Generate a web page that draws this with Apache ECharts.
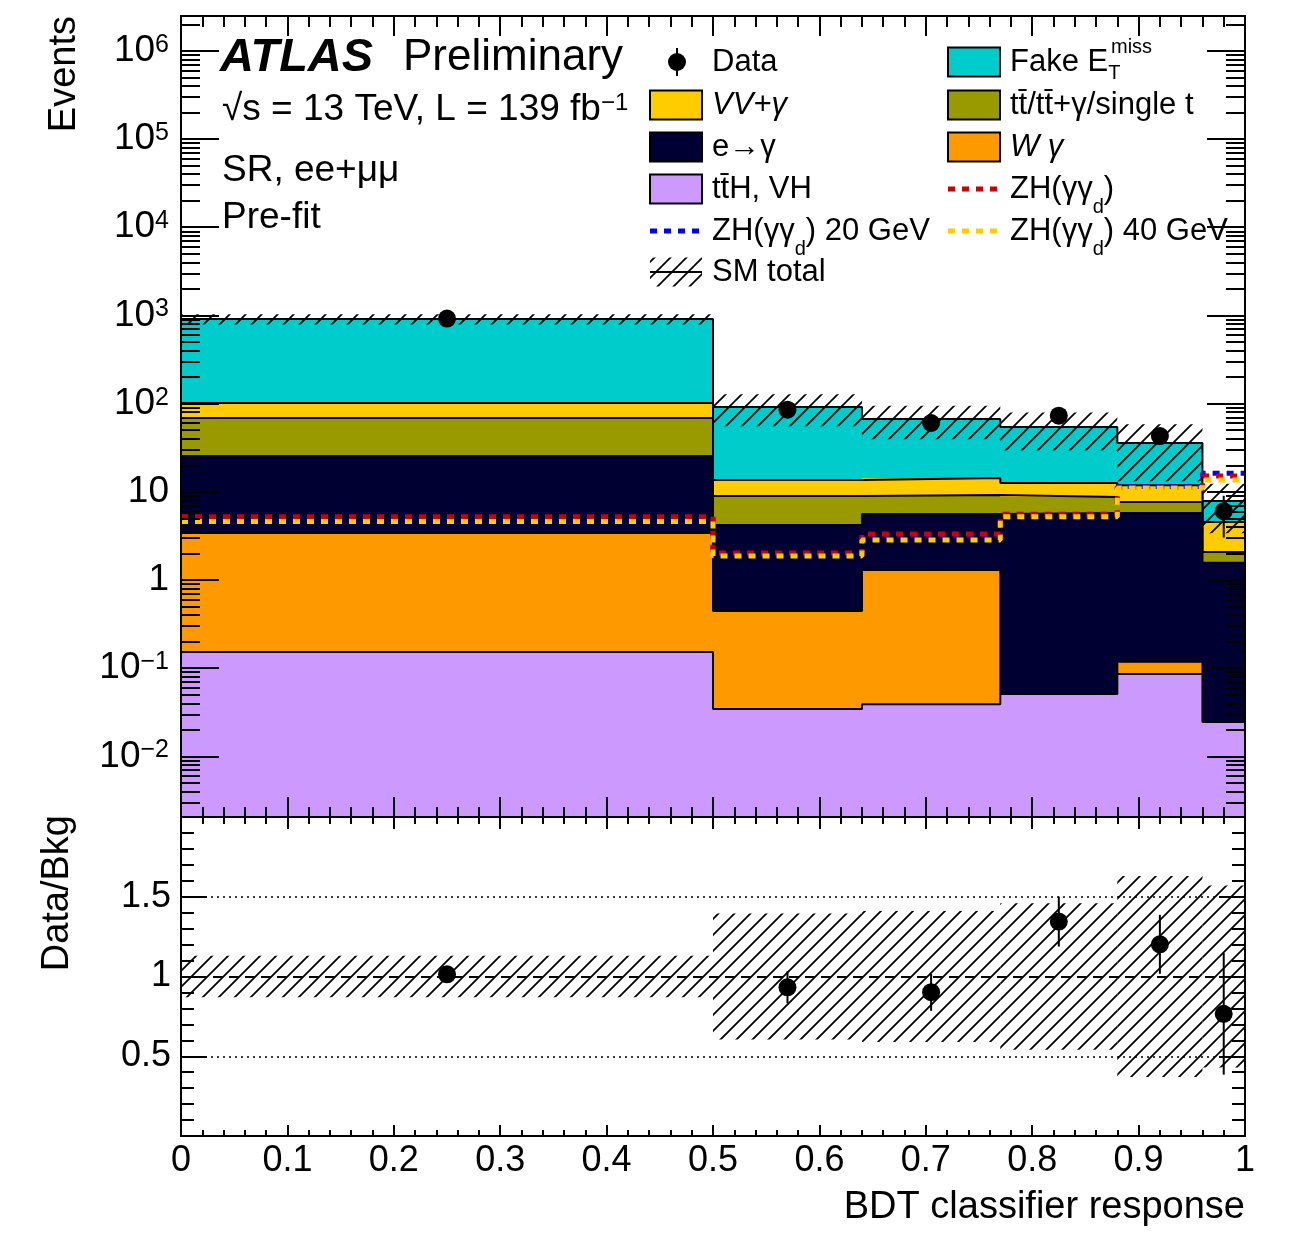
<!DOCTYPE html>
<html>
<head>
<meta charset="utf-8">
<script src="https://cdn.jsdelivr.net/npm/echarts@6/dist/echarts.min.js"></script>
<style>
html, body { margin: 0; padding: 0; background: #fff; }
#chart { width: 1292px; height: 1234px; }
</style>
</head>
<body>
<div id="chart"></div>
<script>
// BDT response bin edges
const binEdges = [0, 0.5, 0.64, 0.77, 0.88, 0.96, 1.0];

// background yields per bin (stack order: bottom -> top)
const ttHVH   = [0.153, 0.0345, 0.039, 0.051, 0.086, 0.0245];
const wGamma  = [3.26, 0.41, 1.26, 0, 0.032, 0];
const eToGam  = [22.1, 3.76, 4.3, 5.7, 5.63, 1.54];
const topBkg  = [43.2, 4.76, 3.6, 2.98, 1.91, 0.52];
const vvGamma = [32.9, 4.64, 5.1, 3.87, 4.24, 2.47];
const fakeMet = [808, 77.9, 52.6, 41.7, 23.8, 3.32];

// relative uncertainty on the SM total
const smRelUnc = [0.13, 0.395, 0.41, 0.46, 0.63, 0.57];

// observed data
const dataY   = [922, 85.3, 60.3, 73, 42.9, 6.03];
const dataErr = [30, 9.2, 7.8, 8.5, 6.6, 3.0];

// signal hypotheses
const sigZH   = [5.2, 2.03, 3.33, 5.55, 11.3, 15.1];
const sigZH20 = [5.0, 1.97, 3.18, 5.4, 11.5, 16.2];
const sigZH40 = [4.6, 1.87, 2.84, 5.2, 11.0, 13.6];

// axis ticks
const logTicks = [-2, -1, 0, 1, 2, 3, 4, 5, 6];
const ratioRefs = [0.5, 1, 1.5];

const LOG_MIN = -2.687, LOG_MAX = 6.395;
const FONT = 'Liberation Sans';

const nBins = binEdges.length - 1;
const binCenters = [];
for (let i = 0; i < nBins; i++) binCenters.push((binEdges[i] + binEdges[i + 1]) / 2);

const layers = [
  { vals: ttHVH,   color: '#cc99ff' },
  { vals: wGamma,  color: '#ff9900' },
  { vals: eToGam,  color: '#000033' },
  { vals: topBkg,  color: '#999900' },
  { vals: vvGamma, color: '#ffcc00' },
  { vals: fakeMet, color: '#00cccc' }
];
// cumulative tops
let run = new Array(nBins).fill(0);
layers.forEach(l => {
  run = run.map((v, i) => v + l.vals[i]);
  l.cum = run.slice();
});
const smTotal = run.slice();

const minorTicks = [];
for (let n = -3; n <= 6; n++) {
  for (let k = 2; k <= 9; k++) {
    const v = n + Math.log10(k);
    if (v > LOG_MIN && v < LOG_MAX) minorTicks.push(v);
  }
}

function makeHatch() {
  const c = document.createElement('canvas');
  c.width = 16; c.height = 16;
  const g = c.getContext('2d');
  g.strokeStyle = '#000';
  g.lineWidth = 1.8;
  g.beginPath();
  g.moveTo(0, 16); g.lineTo(16, 0);
  g.moveTo(-4, 4); g.lineTo(4, -4);
  g.moveTo(12, 20); g.lineTo(20, 12);
  g.stroke();
  return { image: c, repeat: 'repeat' };
}
const hatch = makeHatch();

let zc = 2;
function histFill(cum, color) {
  return {
    type: 'custom', xAxisIndex: 0, yAxisIndex: 0, z: zc++, silent: true,
    data: cum.map((v, i) => [binEdges[i], binEdges[i + 1], Math.log10(v)]),
    encode: { x: [0, 1], y: 2 },
    renderItem: (params, api) => {
      const a = api.coord([api.value(0), api.value(2)]);
      const b = api.coord([api.value(1), api.value(2)]);
      const cs = params.coordSys;
      const x0 = Math.round(a[0]), x1 = Math.round(b[0]);
      return { type: 'rect', shape: { x: x0, y: a[1], width: x1 - x0, height: cs.y + cs.height - a[1] }, style: { fill: color } };
    }
  };
}
function histLine(vals, color, width, dash) {
  return {
    type: 'line', step: 'end', xAxisIndex: 0, yAxisIndex: 0, z: zc++, silent: true,
    symbol: 'none',
    data: binEdges.map((e, i) => [e, Math.log10(vals[Math.min(i, nBins - 1)])]),
    lineStyle: { color: color, width: width, type: dash || 'solid' }
  };
}
function bandSeries(xi, yi, lo, hi, z) {
  return {
    type: 'custom', xAxisIndex: xi, yAxisIndex: yi, z: z, silent: true,
    data: lo.map((v, i) => [binEdges[i], binEdges[i + 1], v, hi[i]]),
    encode: { x: [0, 1], y: [2, 3] },
    renderItem: (params, api) => {
      const a = api.coord([api.value(0), api.value(3)]);
      const b = api.coord([api.value(1), api.value(2)]);
      return { type: 'rect', shape: { x: a[0], y: a[1], width: b[0] - a[0], height: b[1] - a[1] }, style: { fill: hatch } };
    }
  };
}
function errSeries(xi, yi, lo, hi, z) {
  return {
    type: 'custom', xAxisIndex: xi, yAxisIndex: yi, z: z, silent: true,
    data: lo.map((v, i) => [binCenters[i], v, hi[i]]),
    encode: { x: 0, y: [1, 2] },
    renderItem: (params, api) => {
      const a = api.coord([api.value(0), api.value(1)]);
      const b = api.coord([api.value(0), api.value(2)]);
      return { type: 'line', shape: { x1: a[0], y1: a[1], x2: b[0], y2: b[1] }, style: { stroke: '#000', lineWidth: 2 } };
    }
  };
}

const series = [];
for (let k = layers.length - 1; k >= 0; k--) {
  series.push(histFill(layers[k].cum, layers[k].color));
  series.push(histLine(layers[k].cum, '#000', 2));
}
series.push(bandSeries(0, 0,
  smTotal.map((t, i) => Math.log10(t * (1 - smRelUnc[i]))),
  smTotal.map((t, i) => Math.log10(t * (1 + smRelUnc[i]))), 30));
series.push(Object.assign(histLine(sigZH20, '#0000ff', 5, [7, 7]), { z: 31 }));
series.push(Object.assign(histLine(sigZH, '#cc0000', 5, [7, 7]), { z: 32 }));
series.push(Object.assign(histLine(sigZH40, '#ffcc00', 5, [7, 7]), { z: 33 }));
series.push(errSeries(0, 0,
  dataY.map((v, i) => Math.log10(Math.max(v - dataErr[i], 1e-3))),
  dataY.map((v, i) => Math.log10(v + dataErr[i])), 34));
series.push({
  type: 'scatter', xAxisIndex: 0, yAxisIndex: 0, z: 35, silent: true,
  symbol: 'circle', symbolSize: 18, itemStyle: { color: '#000', opacity: 1 },
  data: dataY.map((v, i) => [binCenters[i], Math.log10(v)])
});

// ratio panel
const ratio = dataY.map((v, i) => v / smTotal[i]);
const ratioErr = dataErr.map((e, i) => e / smTotal[i]);
series.push(bandSeries(2, 4, smRelUnc.map(u => 1 - u), smRelUnc.map(u => 1 + u), 10));
series.push(errSeries(2, 4, ratio.map((r, i) => r - ratioErr[i]), ratio.map((r, i) => r + ratioErr[i]), 12));
series.push({
  type: 'scatter', xAxisIndex: 2, yAxisIndex: 4, z: 13, silent: true,
  symbol: 'circle', symbolSize: 18, itemStyle: { color: '#000', opacity: 1 },
  data: ratio.map((r, i) => [binCenters[i], r]),
  markLine: {
    silent: true, symbol: 'none', label: { show: false }, z: 11,
    data: ratioRefs.map(r => ({
      yAxis: r,
      lineStyle: r === 1
        ? { color: '#000', width: 2, type: [10, 6] }
        : { color: '#000', width: 1.5, type: [2, 4] }
    }))
  }
});

const tickLine = { color: '#000', width: 2 };
function xAx(grid, pos, showLabel, len, minLen) {
  return {
    type: 'value', gridIndex: grid, position: pos, min: 0, max: 1, interval: 0.1, z: 50,
    axisLine: { show: true, onZero: false, lineStyle: tickLine },
    axisTick: { show: true, inside: true, length: len, lineStyle: tickLine },
    minorTick: { show: true, splitNumber: 5, length: minLen, lineStyle: tickLine },
    splitLine: { show: false },
    axisLabel: { show: showLabel, color: '#000', fontSize: 36, fontFamily: FONT, margin: 7 }
  };
}
function logAx(pos, values, len, withLabel) {
  return {
    type: 'value', gridIndex: 0, position: pos, min: LOG_MIN, max: LOG_MAX, z: 50,
    axisLine: { show: true, onZero: false, lineStyle: tickLine },
    axisTick: { show: true, inside: true, length: len, customValues: values, lineStyle: tickLine },
    splitLine: { show: false },
    axisLabel: withLabel ? {
      show: true, customValues: logTicks, color: '#000', fontSize: 37, lineHeight: 37, fontFamily: FONT, margin: 12,
      formatter: v => {
        const n = Math.round(v);
        if (n === 0) return '1';
        if (n === 1) return '10';
        return '{b|10}{e|' + (n < 0 ? '\u2212' + (-n) : n) + '}';
      },
      rich: {
        b: { fontSize: 37, lineHeight: 37, fontFamily: FONT, color: '#000', verticalAlign: 'bottom' },
        e: { fontSize: 25, lineHeight: 25, fontFamily: FONT, color: '#000', verticalAlign: 'top', padding: [0, 0, 22, 0] }
      }
    } : { show: false }
  };
}
function ratioAx(pos, withLabel) {
  return {
    type: 'value', gridIndex: 1, position: pos, min: 0, max: 2, interval: 0.5, z: 50,
    axisLine: { show: true, onZero: false, lineStyle: tickLine },
    axisTick: { show: true, inside: true, length: 26, lineStyle: tickLine },
    minorTick: { show: true, splitNumber: 5, length: 13, lineStyle: tickLine },
    splitLine: { show: false },
    axisLabel: {
      show: withLabel, color: '#000', fontSize: 36, fontFamily: FONT, margin: 10,
      formatter: v => (v === 0 || v === 2) ? '' : String(v)
    }
  };
}

// legend
const rowY = [62, 105, 147, 189, 231, 272];
const legText = { fontSize: 31, fontFamily: FONT, fill: '#000', verticalAlign: 'middle', align: 'left',
  rich: { d: { fontSize: 20, fontFamily: FONT, verticalAlign: 'bottom', padding: [36, 0, 0, 0] } } };
function lText(x, y, text, extra) {
  return { type: 'text', x: x, y: y, z: 100, style: Object.assign({ text: text }, legText, extra || {}) };
}
function lBox(x, y, color) {
  return { type: 'rect', z: 100, shape: { x: x, y: y - 14.5, width: 52, height: 29 }, style: { fill: color, stroke: '#000', lineWidth: 2 } };
}
function lDash(x, y, color) {
  return { type: 'line', z: 100, shape: { x1: x, y1: y, x2: x + 52, y2: y }, style: { stroke: color, lineWidth: 5, lineDash: [7, 7] } };
}
const LX = 650, LT = 712, RX = 948, RT = 1010;
const graphics = [
  { type: 'circle', z: 100, shape: { cx: LX + 27, cy: rowY[0], r: 9 }, style: { fill: '#000' } },
  { type: 'line', z: 100, shape: { x1: LX + 27, y1: rowY[0] - 14, x2: LX + 27, y2: rowY[0] + 14 }, style: { stroke: '#000', lineWidth: 2 } },
  lText(LT, rowY[0], 'Data'),
  lBox(LX, rowY[1], '#ffcc00'), lText(LT, rowY[1], 'VV+\u03b3', { fontStyle: 'italic' }),
  lBox(LX, rowY[2], '#000033'), lText(LT, rowY[2], 'e\u2192\u03b3'),
  lBox(LX, rowY[3], '#cc99ff'), lText(LT, rowY[3], 'tt\u0304H, VH'),
  lDash(LX, rowY[4], '#0000ff'), lText(LT, rowY[4], 'ZH(\u03b3\u03b3{d|d}) 20 GeV'),
  { type: 'rect', z: 100, shape: { x: LX, y: rowY[5] - 14.5, width: 52, height: 29 }, style: { fill: hatch } },
  { type: 'line', z: 100, shape: { x1: LX, y1: rowY[5], x2: LX + 52, y2: rowY[5] }, style: { stroke: '#000', lineWidth: 2 } },
  lText(LT, rowY[5], 'SM total'),
  lBox(RX, rowY[0], '#00cccc'),
  lText(RT, rowY[0], 'Fake E{t|T}', { rich: { t: { fontSize: 20, fontFamily: FONT, verticalAlign: 'bottom', padding: [22, 0, 0, 0] } } }),
  lText(RT + 101, rowY[0] - 15, 'miss', { fontSize: 20 }),
  lBox(RX, rowY[1], '#999900'), lText(RT, rowY[1], 'tt\u0304/tt\u0304+\u03b3/single t'),
  lBox(RX, rowY[2], '#ff9900'), lText(RT, rowY[2], 'W \u03b3', { fontStyle: 'italic' }),
  lDash(RX, rowY[3], '#cc0000'), lText(RT, rowY[3], 'ZH(\u03b3\u03b3{d|d})'),
  lDash(RX, rowY[4], '#ffcc00'), lText(RT, rowY[4], 'ZH(\u03b3\u03b3{d|d}) 40 GeV'),
  // labels
  { type: 'text', x: 220, y: 58, z: 100, style: { text: 'ATLAS', fontSize: 47, fontWeight: 'bold', fontStyle: 'italic', fontFamily: FONT, fill: '#000', verticalAlign: 'middle' } },
  { type: 'text', x: 403, y: 58, z: 100, style: { text: 'Preliminary', fontSize: 44, fontFamily: FONT, fill: '#000', verticalAlign: 'middle' } },
  { type: 'text', x: 222, y: 110, z: 100, style: { text: '\u221as = 13 TeV, L = 139 fb{e|\u22121}', fontSize: 37, fontFamily: FONT, fill: '#000', verticalAlign: 'middle',
      rich: { e: { fontSize: 24, lineHeight: 24, fontFamily: FONT, verticalAlign: 'top', padding: [0, 0, 24, 0] } } } },
  { type: 'text', x: 222, y: 171, z: 100, style: { text: 'SR, ee+\u03bc\u03bc', fontSize: 37, fontFamily: FONT, fill: '#000', verticalAlign: 'middle' } },
  { type: 'text', x: 222, y: 218, z: 100, style: { text: 'Pre-fit', fontSize: 37, fontFamily: FONT, fill: '#000', verticalAlign: 'middle' } },
  // axis titles
  { type: 'text', x: 65, y: 16, rotation: Math.PI / 2, z: 100, style: { text: 'Events', fontSize: 38, fontFamily: FONT, fill: '#000', align: 'right', verticalAlign: 'middle' } },
  { type: 'text', x: 58, y: 815, rotation: Math.PI / 2, z: 100, style: { text: 'Data/Bkg', fontSize: 38, fontFamily: FONT, fill: '#000', align: 'right', verticalAlign: 'middle' } },
  { type: 'text', x: 1245, y: 1208, z: 100, style: { text: 'BDT classifier response', fontSize: 38, fontFamily: FONT, fill: '#000', align: 'right', verticalAlign: 'middle' } }
];

const chart = echarts.init(document.getElementById('chart'));
chart.setOption({
  animation: false,
  backgroundColor: '#fff',
  grid: [
    { left: 181, right: 47, top: 16, height: 801 },
    { left: 181, right: 47, top: 817, height: 319 }
  ],
  xAxis: [
    xAx(0, 'bottom', false, 20, 10),
    xAx(0, 'top', false, 20, 11),
    xAx(1, 'bottom', true, 11, 6),
    xAx(1, 'top', false, 12, 7)
  ],
  yAxis: [
    logAx('left', logTicks, 38, true),
    logAx('left', minorTicks, 19, false),
    logAx('right', logTicks, 38, false),
    logAx('right', minorTicks, 19, false),
    ratioAx('left', true),
    ratioAx('right', false)
  ],
  series: series,
  graphic: graphics
});
</script>
</body>
</html>
